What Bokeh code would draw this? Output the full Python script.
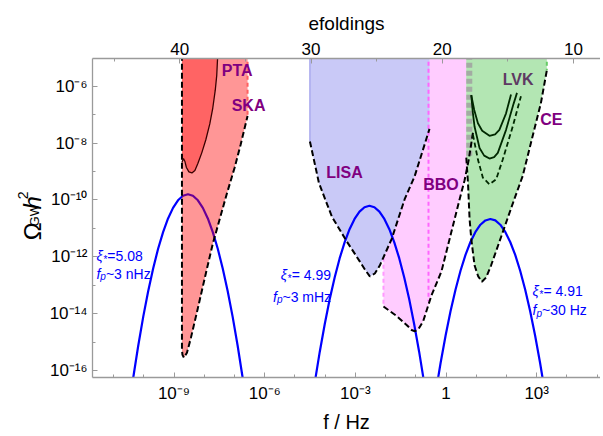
import math
from bokeh.plotting import figure
from bokeh.layouts import row
from bokeh.models import (Range1d, LinearScale, LinearAxis, FixedTicker,
                          CustomJSTickFormatter, Label)
from bokeh.embed import file_html
from bokeh.resources import INLINE

# ---------------- axis limits / ticks (log10 units) ----------------
X_MIN, X_MAX = -11.697, 5.112
Y_MIN, Y_MAX = -16.247, -5.028
X_MAJOR = [-9, -6, -3, 0, 3]
X_MINOR = [-11, -10, -8, -7, -5, -4, -2, -1, 1, 2, 4, 5]
Y_MAJOR = [-16, -14, -12, -10, -8, -6]
Y_MINOR = [-15, -13, -11, -9, -7]
EF_TICKS = [10, 20, 30, 40]
EF_MINOR = [15, 25, 35, 45]
LF_AT_N40 = -8.81          # log10(f/Hz) where efoldings = 40

# ---------------- detector regions: log10 f, log10 Omega h^2 ----------------
ska_lf = [-8.737, -8.737, -8.72, -8.671, -8.572, -8.441, -8.211, -7.947, -7.717,
          -7.487, -7.257, -6.993, -6.796, -6.566, -6.566]
ska_lo = [-4.9, -15.28, -15.45, -15.55, -15.376, -14.854, -13.808, -12.589, -11.544,
          -10.672, -9.801, -8.86, -8.059, -7.049, -4.9]

pta_lf = [-8.737, -8.737, -8.688, -8.638, -8.589, -8.507, -8.408, -8.309, -8.211,
          -8.079, -7.947, -7.816, -7.717, -7.635, -7.586, -7.553]
pta_lo = [-4.9, -8.686, -8.547, -8.652, -8.861, -9.017, -9.052, -8.965, -8.721,
          -8.338, -7.885, -7.328, -6.77, -6.143, -5.62, -4.9]

lisa_lf = [-4.503, -4.503, -4.207, -4.0, -3.77, -3.276, -2.849, -2.684, -2.52,
           -2.355, -2.191, -1.796, -1.368, -1.039, -0.546, -0.546]
lisa_lo = [-4.9, -7.944, -9.394, -9.976, -10.603, -11.474, -12.171, -12.449, -12.693,
           -12.589, -12.31, -11.369, -9.976, -9.174, -7.502, -4.9]

bbo_lf = [-2.069, -2.069, -1.632, -1.303, -1.138, -1.03, -0.908, -0.753, -0.48,
          -0.151, 0.178, 0.451, 0.615, 0.753, 0.891, 0.891]
bbo_lo = [-4.9, -13.749, -14.087, -14.40, -14.575, -14.62, -14.54, -14.261, -13.355,
          -12.519, -11.125, -9.976, -9.31, -8.582, -7.64, -4.9]
bbo_inner_lf = -0.579
bbo_inner_lo_end = -13.565

ce_lf = [0.671, 0.671, 0.727, 0.780, 0.836, 0.944, 1.066, 1.188, 1.329, 1.493,
         1.878, 2.053, 2.26, 2.536, 2.809, 3.138, 3.336, 3.336]
ce_lo = [-4.9, -8.512, -9.394, -10.672, -11.369, -12.30, -12.693, -12.878, -12.728,
         -12.30, -11.136, -10.603, -9.976, -9.164, -8.0, -6.606, -5.446, -4.9]
ligo_band_lf = 0.77
ligo_band_lo_end = -8.512

lvk1_lf = [0.836, 0.934, 1.056, 1.197, 1.438, 1.625, 1.766, 1.987, 2.151]
lvk1_lo = [-6.317, -6.84, -7.303, -7.571, -7.746, -7.693, -7.537, -6.955, -6.293]
lvk2_lf = [0.836, 0.885, 0.944, 1.109, 1.263, 1.438, 1.592, 1.714, 1.987, 2.24, 2.349]
lvk2_lo = [-6.317, -6.909, -7.422, -8.174, -8.443, -8.547, -8.495, -8.348, -7.537, -6.606, -6.237]
lvk3_lf = [0.891, 1.056, 1.22, 1.438, 1.658, 1.878, 2.207, 2.48]
lvk3_lo = [-7.711, -8.582, -9.22, -9.453, -9.279, -8.582, -7.422, -6.352]

# ---------------- GW spectra (blue) ----------------
gA_lf = [-10.348, -10.184, -10.019, -9.855, -9.690, -9.526, -9.361, -9.197, -9.032, -8.868,
         -8.703, -8.539, -8.375, -8.21, -8.046, -7.881, -7.717, -7.552, -7.388, -7.223,
         -7.059, -6.894, -6.73]
gA_lo = [-16.247, -15.129, -14.115, -13.211, -12.411, -11.719, -11.133, -10.654, -10.281, -10.015,
         -9.855, -9.801, -9.855, -10.015, -10.281, -10.654, -11.133, -11.719, -12.411, -13.211,
         -14.115, -15.129, -16.247]
gB_lf = [-4.343, -4.178, -4.013, -3.849, -3.684, -3.52, -3.355, -3.191, -3.026, -2.862,
         -2.697, -2.533, -2.369, -2.204, -2.04, -1.875, -1.711, -1.546, -1.382, -1.217,
         -1.053, -0.888, -0.724]
gB_lo = [-16.425, -15.348, -14.373, -13.497, -12.727, -12.059, -11.494, -11.031, -10.671, -10.415,
         -10.260, -10.209, -10.260, -10.415, -10.671, -11.031, -11.494, -12.059, -12.727, -13.497,
         -14.373, -15.348, -16.425]
gC_lf = [-0.343, -0.178, -0.013, 0.151, 0.316, 0.48, 0.645, 0.809, 0.974, 1.138,
         1.303, 1.467, 1.632, 1.796, 1.961, 2.125, 2.29, 2.454, 2.619, 2.783,
         2.948, 3.112, 3.277]
gC_lo = [-16.79, -15.728, -14.768, -13.908, -13.15, -12.493, -11.936, -11.481, -11.127, -10.874,
         -10.723, -10.672, -10.723, -10.874, -11.127, -11.481, -11.936, -12.493, -13.15, -13.908,
         -14.768, -15.728, -16.79]

# ---------------- labels ----------------
det_names = ["PTA", "SKA", "LISA", "BBO", "LVK", "CE"]
det_lf = [-6.911, -6.533, -3.359, -0.168, 2.388, 3.484]
det_lo = [-5.446, -6.666, -9.024, -9.47, -5.77, -7.188]
det_colors = ["#800080", "#800080", "#800080", "#800080", "#5E3A63", "#800080"]

xi_values = ["=5.08", "= 4.99", "= 4.91"]
fp_values = ["~3 nHz", "~3 mHz", "~30 Hz"]
ann_lf = [-11.566, -3.803, 2.865]
ann_lo1 = [-11.979, -12.648, -13.206]
ann_lo2 = [-12.606, -13.401, -13.889]
ann_align = ["left", "right", "left"]

X_TITLE = "f / Hz"
TOP_TITLE = "efoldings"
# y title pieces: text, size, style, baseline x (px), start y (px) in the label strip
Y_TITLE = [("Ω", 24, "normal", 32, 248), ("GW", 13, "normal", 34, 229),
           ("h", 24, "italic", 32, 206), ("2", 14, "normal", 22, 192)]

FONT = "Liberation Sans"
GRAY = "#9a9a9a"
BLUE = "#0000FF"
H = 435
STRIP_W = 46


def P(a):
    return [10 ** v for v in a]


p = figure(width=554, height=H, x_axis_type="log", y_axis_type="log",
           x_range=Range1d(10 ** X_MIN, 10 ** X_MAX),
           y_range=Range1d(10 ** Y_MIN, 10 ** Y_MAX),
           output_backend="svg", toolbar_location=None,
           min_border_left=43, min_border_right=0, min_border_top=58, min_border_bottom=55)
p.xgrid.visible = False
p.ygrid.visible = False
p.outline_line_color = None
p.background_fill_color = "white"
p.border_fill_color = "white"

JS = """
const e = Math.round(Math.log10(tick));
if (e === 0) { return "1"; }
const sup = {"-": "\u207b", "0": "\u2070", "1": "\u00b9", "2": "\u00b2", "3": "\u00b3",
             "4": "\u2074", "5": "\u2075", "6": "\u2076", "7": "\u2077", "8": "\u2078", "9": "\u2079"};
return "10" + String(e).split("").map(c => sup[c]).join("");
"""


def style_axis(ax, standoff):
    ax.axis_line_color = GRAY
    ax.axis_line_width = 1.3
    ax.major_tick_line_color = GRAY
    ax.minor_tick_line_color = GRAY
    ax.major_tick_in = 5
    ax.major_tick_out = 0
    ax.minor_tick_in = 3
    ax.minor_tick_out = 0
    ax.major_label_text_font = FONT
    ax.major_label_text_font_size = "17px"
    ax.major_label_text_color = "black"
    ax.major_label_standoff = standoff
    ax.axis_label_text_font = FONT
    ax.axis_label_text_font_style = "normal"
    ax.axis_label_text_color = "black"


bx = p.below[0]
bx.ticker = FixedTicker(ticks=[10.0 ** e for e in X_MAJOR], minor_ticks=[10.0 ** e for e in X_MINOR])
bx.formatter = CustomJSTickFormatter(code=JS)
style_axis(bx, 6)
bx.axis_label = X_TITLE
bx.axis_label_text_font_size = "20px"
bx.axis_label_standoff = 5

ly = p.left[0]
ly.ticker = FixedTicker(ticks=[10.0 ** e for e in Y_MAJOR], minor_ticks=[10.0 ** e for e in Y_MINOR])
ly.formatter = CustomJSTickFormatter(code=JS)
style_axis(ly, 5)

LN10 = math.log(10)
ef_left = 40 - LN10 * (X_MIN - LF_AT_N40)
ef_right = 40 - LN10 * (X_MAX - LF_AT_N40)
p.extra_x_ranges = {"ef": Range1d(ef_left, ef_right)}
p.extra_x_scales = {"ef": LinearScale()}
top = LinearAxis(x_range_name="ef", ticker=FixedTicker(ticks=EF_TICKS, minor_ticks=EF_MINOR))
style_axis(top, 4)
top.axis_label = TOP_TITLE
top.axis_label_text_font_size = "19px"
top.axis_label_standoff = 6
p.add_layout(top, "above")

DASH = "6 3"

# spectrum A under the translucent red regions
p.line(P(gA_lf), P(gA_lo), line_color=BLUE, line_width=2.2)
p.patch(P(ska_lf), P(ska_lo), fill_color="#FF0000", fill_alpha=0.41, line_color=None)
p.patch(P(pta_lf), P(pta_lo), fill_color="#FF0000", fill_alpha=0.33, line_color=None)

# BBO then LISA
p.patch(P(bbo_lf), P(bbo_lo), fill_color="#FFCCFF", line_color=None)
p.line(P([bbo_lf[0], bbo_lf[1]]), P([bbo_lo[0], bbo_lo[1]]), line_color="#FF99FF",
       line_width=2, line_dash="4 3")
p.patch(P(lisa_lf), P(lisa_lo), fill_color="#C9C9F7", line_color=None)
p.line(P([lisa_lf[0], lisa_lf[1]]), P([lisa_lo[0], lisa_lo[1]]), line_color="#A9A9EE", line_width=1.5)

# CE
p.patch(P(ce_lf), P(ce_lo), fill_color="#B3E6B3", line_color=None)

# spectra B, C
p.line(P(gB_lf), P(gB_lo), line_color=BLUE, line_width=2.2)
p.line(P(gC_lf), P(gC_lo), line_color=BLUE, line_width=2.2)

# coloured edge lines
p.line(P([ligo_band_lf, ligo_band_lf]), P([-4.9, ligo_band_lo_end]), line_color="#A0A0A0",
       line_alpha=0.85, line_width=6, line_dash="5 3")
p.line(P([bbo_inner_lf, bbo_inner_lf]), P([-4.9, bbo_inner_lo_end]), line_color="#FF66FF",
       line_width=2, line_dash="4 3")
p.line(P([ska_lf[-1], ska_lf[-2]]), P([ska_lo[-1], ska_lo[-2]]), line_color="#FF6060",
       line_width=2, line_dash="4 3")
p.line(P([ce_lf[-1], ce_lf[-2]]), P([ce_lo[-1], ce_lo[-2]]), line_color="#66CC66",
       line_width=2, line_dash="4 3")

# black sensitivity boundaries
p.line(P(ska_lf[:-1]), P(ska_lo[:-1]), line_color="black", line_width=2, line_dash=DASH)
p.line(P(lisa_lf[1:-1]), P(lisa_lo[1:-1]), line_color="black", line_width=2, line_dash=DASH)
p.line(P(bbo_lf[1:-1]), P(bbo_lo[1:-1]), line_color="black", line_width=2, line_dash=DASH)
p.line(P(ce_lf[1:-1]), P(ce_lo[1:-1]), line_color="black", line_width=2, line_dash=DASH)
p.line(P(pta_lf[1:]), P(pta_lo[1:]), line_color="#3a0000", line_width=1.3)
p.line(P(lvk1_lf), P(lvk1_lo), line_color="#002800", line_width=1.8)
p.line(P(lvk2_lf), P(lvk2_lo), line_color="#002800", line_width=1.8)
p.line(P(lvk3_lf), P(lvk3_lo), line_color="#002800", line_width=1.8, line_dash="5 3")

# detector names
for name, lf, lo, c in zip(det_names, det_lf, det_lo, det_colors):
    p.add_layout(Label(x=10 ** lf, y=10 ** lo, text=name, text_font=FONT, text_font_size="16px",
                       text_font_style="bold", text_color=c, text_align="center",
                       text_baseline="middle"))

# rich text helper (approximate Arial advance widths, em units)
CW = {"ξ": 0.5, "*": 0.389, "=": 0.584, " ": 0.278, ".": 0.278, "f": 0.278, "p": 0.556,
      "~": 0.584, "n": 0.556, "m": 0.833, "H": 0.722, "z": 0.5}


def tw(s, size):
    return sum(CW.get(ch, 0.556) for ch in s) * size


def rich(lf, lo, pieces, align):
    total = sum(tw(t, s) for t, s, st, d in pieces)
    x0 = 0 if align == "left" else -total
    for t, s, st, d in pieces:
        p.add_layout(Label(x=10 ** lf, y=10 ** lo, x_offset=x0, y_offset=d, text=t,
                           text_font=FONT, text_font_size=f"{s}px", text_font_style=st,
                           text_color=BLUE, text_align="left", text_baseline="alphabetic"))
        x0 += tw(t, s)


for xv, fv, lf, lo1, lo2, al in zip(xi_values, fp_values, ann_lf, ann_lo1, ann_lo2, ann_align):
    rich(lf, lo1, [("ξ", 14, "italic", 0), ("*", 10, "normal", -3), (xv, 14, "normal", 0)], al)
    rich(lf, lo2, [("f", 14, "italic", 0), ("p", 10, "italic", -3), (fv, 14, "normal", 0)], al)

# ---------------- strip holding the rotated y title ----------------
strip = figure(width=STRIP_W, height=H, x_range=Range1d(0, STRIP_W), y_range=Range1d(H, 0),
               output_backend="svg", toolbar_location=None,
               x_axis_location=None, y_axis_location=None,
               min_border_left=0, min_border_right=0, min_border_top=0, min_border_bottom=0)
strip.xgrid.visible = False
strip.ygrid.visible = False
strip.outline_line_color = None
strip.background_fill_color = "white"
strip.border_fill_color = "white"
for t, s, st, bxp, syp in Y_TITLE:
    strip.add_layout(Label(x=bxp, y=syp, text=t, text_font=FONT, text_font_size=f"{s}px",
                           text_font_style=st, angle=math.pi / 2, text_align="left",
                           text_baseline="alphabetic", text_color="black"))

layout = row(strip, p)
open("out.html", "w", encoding="utf-8").write(file_html(layout, INLINE))
